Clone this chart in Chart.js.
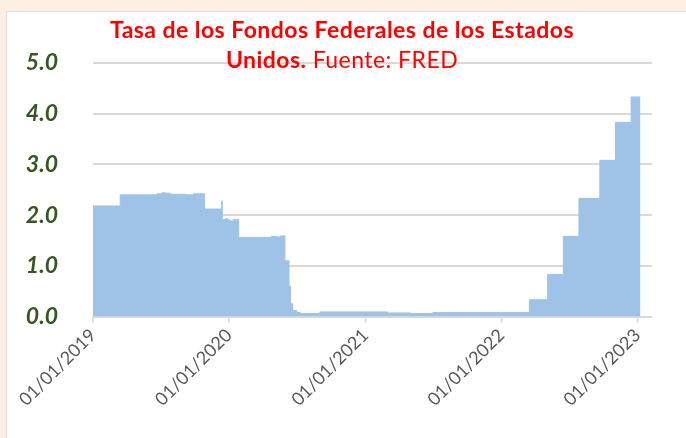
<!DOCTYPE html>
<html><head><meta charset="utf-8">
<script src="https://cdn.jsdelivr.net/npm/chart.js@4.4.1/dist/chart.umd.min.js"></script>
<style>
html,body{margin:0;padding:0;}
body{width:686px;height:438px;background:#FDEFE3;position:relative;overflow:hidden;font-family:Lato,"Open Sans",sans-serif;}
#panel{position:absolute;left:6px;top:11px;width:680px;height:427px;background:#fff;border-left:1px solid #e8dfd7;border-top:1px solid #e8dfd7;}
#c{position:absolute;left:0;top:0;}
.t{position:absolute;left:0;width:684px;text-align:center;color:#FF0000;font-size:23px;line-height:28px;letter-spacing:0.45px;white-space:nowrap;}
.b{font-weight:700;}
.n{font-weight:400;}
</style></head>
<body>
<div id="panel"></div>
<canvas id="c" width="686" height="438"></canvas>
<div class="t b" style="top:15px">Tasa de los Fondos Federales de los Estados</div>
<div class="t" style="top:45px"><span class="b">Unidos.</span> <span class="n">Fuente: FRED</span></div>
<script>
// Effective Federal Funds Rate (%)
const dates = [
 '2019-01-01','2019-03-15','2019-06-22','2019-07-05','2019-07-15','2019-07-27','2019-09-08','2019-09-27',
 '2019-10-27','2019-12-12','2019-12-14','2019-12-22','2019-12-29','2020-01-06','2020-01-12','2020-01-27',
 '2020-04-23','2020-05-07','2020-05-18','2020-05-30','2020-06-10','2020-06-14','2020-06-20','2020-06-30',
 '2020-07-10','2020-09-01','2020-11-15','2021-01-15','2021-03-01','2021-05-01','2021-07-01','2021-09-01',
 '2021-11-01','2022-01-01','2022-03-17','2022-05-05','2022-06-16','2022-07-28','2022-09-22','2022-11-03',
 '2022-12-15','2023-01-09'
];
const rates = [
 2.18,2.40,2.42,2.44,2.43,2.41,2.40,2.42,
 2.12,2.28,1.91,1.93,1.90,1.88,1.91,1.56,
 1.58,1.57,1.59,1.10,0.60,0.25,0.12,0.08,
 0.06,0.09,0.09,0.09,0.07,0.06,0.08,0.08,
 0.08,0.08,0.33,0.83,1.58,2.33,3.08,3.83,
 4.33,4.33
];
const tickDates = ['2019-01-01','2020-01-01','2021-01-01','2022-01-01','2023-01-01'];
const tickLabels = ['01/01/2019','01/01/2020','01/01/2021','01/01/2022','01/01/2023'];
const yTicks = [0,1,2,3,4,5];

const day0 = Date.UTC(2019,0,1);
function toDay(s){const p=s.split('-').map(Number);return (Date.UTC(p[0],p[1]-1,p[2])-day0)/86400000;}
const points = dates.map((d,i)=>({x:toDay(d),y:rates[i]}));

new Chart(document.getElementById('c'),{
  type:'line',
  data:{datasets:[{
    data:points,
    stepped:'before',
    fill:'origin',
    backgroundColor:'#9FC3E7',
    borderColor:'#9FC3E7',
    borderWidth:1,
    pointRadius:0,
    tension:0
  }]},
  options:{
    responsive:false,
    animation:false,
    devicePixelRatio:1,
    layout:{padding:{top:63,right:34,left:0,bottom:0}},
    plugins:{legend:{display:false},tooltip:{enabled:false},title:{display:false}},
    scales:{
      x:{
        type:'linear',min:0,max:1500,
        afterBuildTicks:(ax)=>{ax.ticks=tickDates.map(d=>({value:toDay(d)}));},
        afterFit:(s)=>{s.height=121.5;},
        grid:{display:true,drawOnChartArea:false,drawTicks:true,tickLength:6,color:'#d9d9d9',lineWidth:1.5},
        border:{display:true,color:'#d9d9d9',width:1.5},
        ticks:{autoSkip:false,maxRotation:45,minRotation:45,padding:2,color:'#595959',
          font:{family:'Lato',size:18},
          callback:(v,i)=>tickLabels[i]}
      },
      y:{
        min:0,max:5,
        afterBuildTicks:(ax)=>{ax.ticks=yTicks.map(v=>({value:v}));},
        afterFit:(s)=>{s.width=93;},
        grid:{color:'#d9d9d9',lineWidth:2,drawTicks:false},
        border:{display:false},
        ticks:{padding:35,color:'#375623',
          font:{family:'Lato',size:23,weight:'bold',style:'italic'},
          callback:(v)=>Number(v).toFixed(1)}
      }
    }
  }
});
</script>
</body></html>
